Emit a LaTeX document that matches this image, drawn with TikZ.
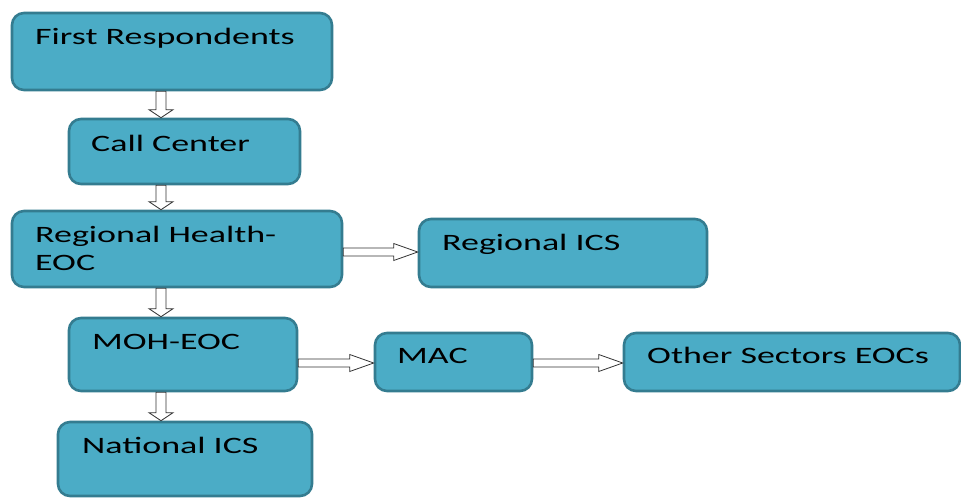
\documentclass[tikz,border=0pt]{standalone}
\usepackage{fontspec}
\setmainfont{Carlito}[FakeStretch=1.53]
\usetikzlibrary{calc}
\definecolor{boxfill}{RGB}{75,172,198}
\definecolor{boxline}{RGB}{52,124,144}
\tikzset{
  box/.style={draw=boxline, fill=boxfill, line width=2.6pt, rounded corners=12pt, inner sep=0pt},
  lbl/.style={anchor=base west, inner sep=0pt, font=\fontsize{23.5}{28}\selectfont, text=black},
  blk/.style={draw=black!80, fill=white, line width=0.8pt, line join=miter}
}
\newcommand\blkdown[2]{%
  \draw[blk] ($(#1)+(-5pt,0)$) -- ($(#1)+(5pt,0)$) -- ($(#2)+(5pt,8pt)$) -- ($(#2)+(12pt,8pt)$) -- (#2) -- ($(#2)+(-12pt,8pt)$) -- ($(#2)+(-5pt,8pt)$) -- cycle;}
\newcommand\blkright[2]{%
  \draw[blk] ($(#1)+(0,4pt)$) -- ($(#2)+(-24pt,4pt)$) -- ($(#2)+(-24pt,8.5pt)$) -- (#2) -- ($(#2)+(-24pt,-8.5pt)$) -- ($(#2)+(-24pt,-4pt)$) -- ($(#1)+(0,-4pt)$) -- cycle;}
\begin{document}
\begin{tikzpicture}[x=1pt,y=-1pt]
\useasboundingbox (0,0) rectangle (961,498);
\clip (0,0) rectangle (961,498);
% boxes
\node[box, minimum width=320pt, minimum height=77pt] (fr)  at (172,51.5) {};
\node[box, minimum width=231pt, minimum height=65pt] (cc)  at (184.5,151.5) {};
\node[box, minimum width=330pt, minimum height=76pt] (rh)  at (177,249) {};
\node[box, minimum width=288pt, minimum height=68pt] (ric) at (563,253) {};
\node[box, minimum width=228pt, minimum height=73pt] (moh) at (183,354.5) {};
\node[box, minimum width=157pt, minimum height=58pt] (mac) at (453.5,362) {};
\node[box, minimum width=336pt, minimum height=58pt] (oth) at (792,362) {};
\node[box, minimum width=254pt, minimum height=74pt] (nat) at (185,459) {};
% labels
\node[lbl] (tfr)  at (35,44)  {First Respondents};
\node[lbl] (tcc)  at (91,151) {Call Center};
\node[lbl] (trh1) at (35,242) {Regional Health-};
\node[lbl] (trh2) at (35,270) {EOC};
\node[lbl] (tric) at (442,250) {Regional ICS};
\node[lbl] (tmoh) at (92,349) {MOH-EOC};
\node[lbl] (tmac) at (397,363) {MAC};
\node[lbl] (toth) at (647,363) {Other Sectors EOCs};
\node[lbl] (tnat) at (82,453) {National ICS};
% arrow reference coordinates
\coordinate (vx) at (161,0);
\coordinate (hy1) at (0,252);
\coordinate (hy2) at (0,363);
\coordinate (a1s) at (vx |- fr.south);
\coordinate (a1e) at (vx |- cc.north);
\coordinate (a2s) at (vx |- cc.south);
\coordinate (a2e) at (vx |- rh.north);
\coordinate (a3s) at (vx |- rh.south);
\coordinate (a3e) at (vx |- moh.north);
\coordinate (a4s) at (vx |- moh.south);
\coordinate (a4e) at (vx |- nat.north);
\coordinate (b1s) at (rh.east |- hy1);
\coordinate (b1e) at (ric.west |- hy1);
\coordinate (b2s) at (moh.east |- hy2);
\coordinate (b2e) at (mac.west |- hy2);
\coordinate (b3s) at (mac.east |- hy2);
\coordinate (b3e) at (oth.west |- hy2);
% arrows
\blkdown{a1s}{a1e}
\blkdown{a2s}{a2e}
\blkdown{a3s}{a3e}
\blkdown{a4s}{a4e}
\blkright{b1s}{b1e}
\blkright{b2s}{b2e}
\blkright{b3s}{b3e}
\end{tikzpicture}
\end{document}
